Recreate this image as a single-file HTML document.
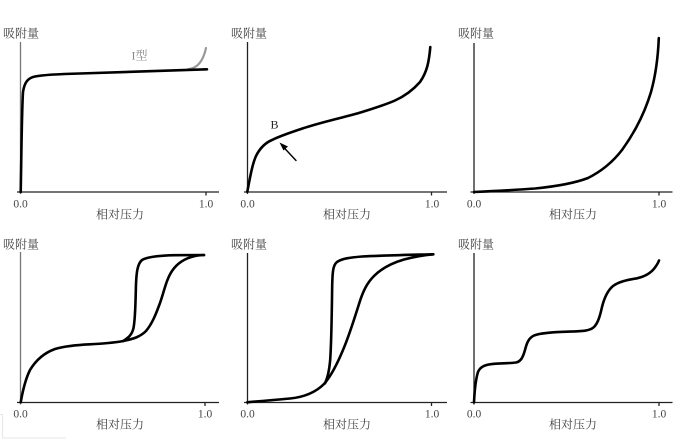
<!DOCTYPE html>
<html><head><meta charset="utf-8">
<style>
html,body{margin:0;padding:0;background:#fff;}
svg{display:block;}
text{font-family:"Liberation Serif","Noto Serif CJK SC",serif;fill:#444;}
</style></head>
<body>
<svg width="690" height="440" viewBox="0 0 690 440" xmlns="http://www.w3.org/2000/svg">
<rect width="690" height="440" fill="#fff"/>
<!-- faint artifact box bottom-left -->
<path d="M0 414.5 H2.5 V438 H66" fill="none" stroke="#e6e6e6" stroke-width="1"/>

<g stroke="#222" stroke-width="1.3" fill="none">
  <!-- panel 1 -->
  <line x1="20.5" y1="42" x2="20.5" y2="194" stroke="#777"/>
  <line x1="17" y1="192" x2="219" y2="192"/>
  <line x1="206" y1="192" x2="206" y2="195.5"/>
  <!-- panel 2 -->
  <line x1="247.5" y1="42" x2="247.5" y2="194"/>
  <line x1="244" y1="192" x2="447" y2="192"/>
  <line x1="431.5" y1="192" x2="431.5" y2="195.5"/>
  <!-- panel 3 -->
  <line x1="474" y1="43" x2="474" y2="194"/>
  <line x1="470.5" y1="192" x2="672.5" y2="192"/>
  <line x1="659" y1="192" x2="659" y2="195.5"/>
  <!-- panel 4 -->
  <line x1="20.5" y1="252" x2="20.5" y2="404.5" stroke="#777"/>
  <line x1="17" y1="402.5" x2="219" y2="402.5"/>
  <line x1="205" y1="402.5" x2="205" y2="406"/>
  <!-- panel 5 -->
  <line x1="247.5" y1="253" x2="247.5" y2="404.5"/>
  <line x1="244" y1="402.5" x2="447" y2="402.5"/>
  <line x1="431.5" y1="402.5" x2="431.5" y2="406"/>
  <!-- panel 6 -->
  <line x1="474" y1="253" x2="474" y2="404.5"/>
  <line x1="470.5" y1="402.5" x2="672.5" y2="402.5"/>
  <line x1="659" y1="402.5" x2="659" y2="406"/>
</g>

<!-- curves -->
<g fill="none" stroke="#000" stroke-width="2.6" stroke-linecap="round" stroke-linejoin="round">
  <!-- panel 1 gray upturn -->
  <path d="M188 69.2 C197 68.5 203 62 206 48" stroke="#999" stroke-width="2.2"/>
  <!-- panel 1 -->
  <path d="M20.7 192 C21.5 150 21.8 110 23 92 C24.5 82 28 78 35 76.5 C45 74.5 60 74 80 73.5 L207 69.3"/>
  <!-- panel 2 -->
  <path d="M247.3 191.7 C250 178 252 165 256 156 C260 148 265 143 272 140 C282 135 295 131 308 126.7 C330 120 345 117 358 113.3 C375 108 385 105 395 100.5 C405 96 413 90 420 82 C427 72 429 62 430.3 47"/>
  <!-- panel 3 -->
  <path d="M474 192 C495 191 515 190 535 188.5 C555 186.5 575 183 588 178 C600 172 612 163 622 150 C635 132 645 112 651 92 C656 74 658 58 658.8 38"/>
  <!-- panel 4 adsorption -->
  <path d="M20.7 402.3 C22.5 392 25 380 30 370 C36 360 44 353 55 349 C65 346 75 345 90 344.3 C105 343.6 115 342.5 123.3 341 C133 339 140 337 146 331 C152 324 156 314 160 303 C164 292 166 280 172 271 C178 262 186 258 195 256 C200 255.2 203 255 204 255"/>
  <!-- panel 4 desorption -->
  <path d="M123.3 341 C128 338 132 335 133.5 328 C135.5 318 135.5 300 136 284 C136.5 272 137.5 264 142 260 C148 256.5 160 255.5 175 255.2 L204 255"/>
  <!-- panel 5 adsorption -->
  <path d="M247.3 402.3 C260 401 275 400 290 398.5 C305 397 316 392 324 384 C332 375 338 362 343 350 C349 336 354 320 359 304 C363 291 367 283 374 276 C382 268 392 263 404 259.5 C416 256.3 425 255 433.3 254.3"/>
  <!-- panel 5 desorption -->
  <path d="M325 383.3 C327.5 378 329 372 330 362 C331.5 345 331.8 310 332.2 285 C332.5 272 333 265 337 262 C342 258.5 350 257.5 362 256.5 C380 255.5 405 255 433.3 254.3"/>
  <!-- panel 6 -->
  <path d="M474 402.3 C474.5 392 475.5 380 478 372 C480.5 366 486 364.5 494 363.8 C502 363.2 510 363.3 516 362.5 C521 361.5 523 357 525 350 C527 342 529 338 534 335.5 C541 332.8 555 332 570 331.6 C582 331.3 590 331 594 327 C598 323 600 316 602 307 C604 299 607 291 613 286 C619 281.5 627 280 637 278.3 C645 276.5 651 273 655 267.5 C657.5 264 658.5 262 659 260.5"/>
  <!-- arrow panel 2 -->
  <line x1="296" y1="160.5" x2="282" y2="145.5" stroke-width="1.4"/>
</g>
<polygon points="279.5,142.5 288,146.5 283.5,150.5" fill="#000"/>

<!-- labels -->
<g font-size="12">
  <text x="3" y="37.5">吸附量</text>
  <text x="231" y="37.5">吸附量</text>
  <text x="458" y="37.5">吸附量</text>
  <text x="3" y="248.5">吸附量</text>
  <text x="231" y="248.5">吸附量</text>
  <text x="458" y="248.5">吸附量</text>
</g>
<g font-size="12" text-anchor="middle">
  <text x="120" y="218.5">相对压力</text>
  <text x="347" y="218.5">相对压力</text>
  <text x="573" y="218.5">相对压力</text>
  <text x="120" y="428.5">相对压力</text>
  <text x="347" y="428.5">相对压力</text>
  <text x="573" y="428.5">相对压力</text>
</g>
<g font-size="11.5" text-anchor="middle">
  <text x="20.5" y="207.5">0.0</text>
  <text x="206" y="207.5">1.0</text>
  <text x="247.5" y="207.5">0.0</text>
  <text x="432" y="207.5">1.0</text>
  <text x="474" y="207.5">0.0</text>
  <text x="659" y="207.5">1.0</text>
  <text x="20.5" y="417.5">0.0</text>
  <text x="205" y="417.5">1.0</text>
  <text x="247.5" y="417.5">0.0</text>
  <text x="432" y="417.5">1.0</text>
  <text x="474" y="417.5">0.0</text>
  <text x="659" y="417.5">1.0</text>
</g>
<text x="131.5" y="59.5" font-size="12" style="fill:#888">I型</text>
<text x="270.5" y="128.5" font-size="12" style="fill:#222">B</text>
</svg>
</body></html>
